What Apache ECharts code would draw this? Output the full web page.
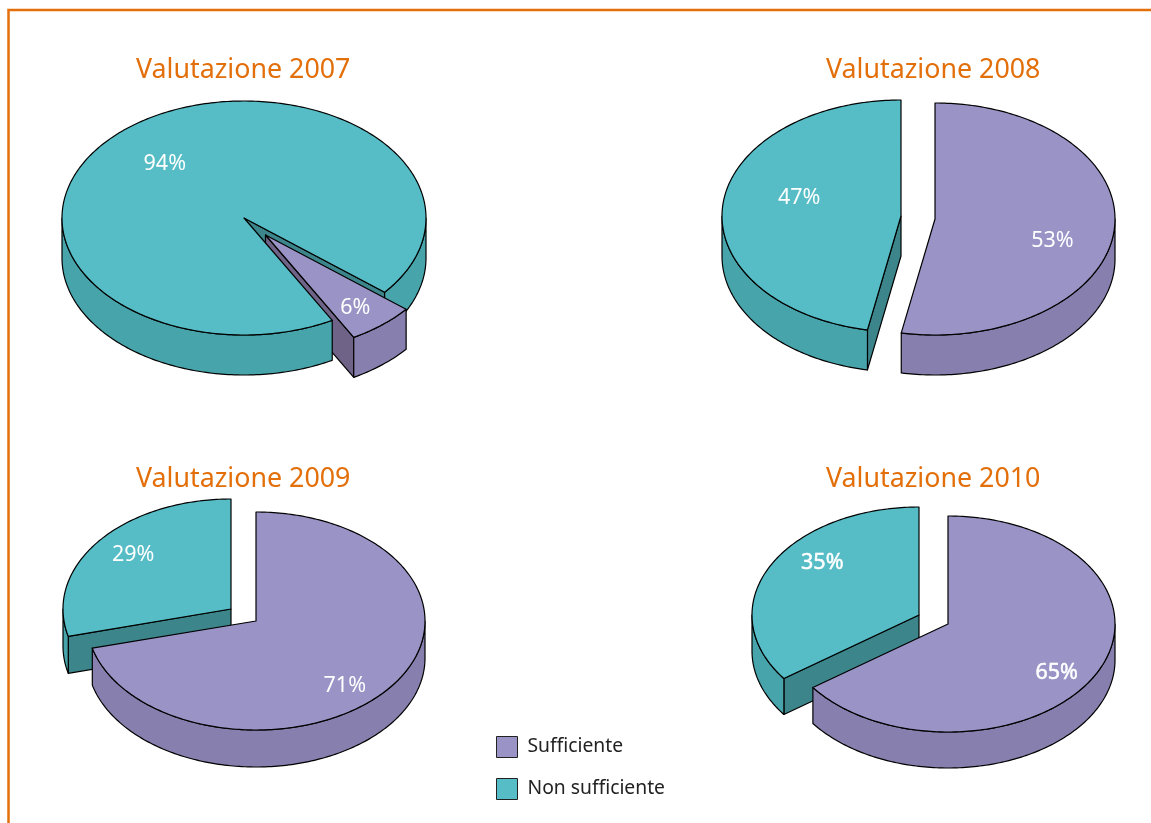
<!DOCTYPE html>
<html>
<head>
<meta charset="utf-8">
<style>html,body{margin:0;padding:0;background:#fff}#c{width:1151px;height:823px}</style>
<script src="https://cdn.jsdelivr.net/npm/echarts@6/dist/echarts.min.js"></script>
</head>
<body>
<div id="c"></div>
<script>
// ---- data ----
var years = ['2007', '2008', '2009', '2010'];
var seriesNames = ['Sufficiente', 'Non sufficiente'];
var sufficiente = [6, 53, 71, 65];
var nonSufficiente = [94, 47, 29, 35];
var titlePrefix = 'Valutazione ';

// ---- layout (per year) ----
var startAngle = [129.4, 0, 0, 0];
var layoutS = [
  {cx: 265.5, cy: 235, rx: 182, ry: 117, d: 40, lab: [14, 14.5]},
  {cx: 935, cy: 219, rx: 180, ry: 116, d: 40, lab: [1, 15]},
  {cx: 256, cy: 621, rx: 169, ry: 109, d: 37, lab: [2, 21]},
  {cx: 948, cy: 624, rx: 167, ry: 108, d: 36, lab: [12, 17]}
];
var layoutN = [
  {cx: 244, cy: 218, rx: 182, ry: 117, d: 40, lab: [-3.5, 4.5]},
  {cx: 901, cy: 216, rx: 179, ry: 116, d: 40, lab: [14, -11]},
  {cx: 231, cy: 609, rx: 168, ry: 110, d: 37, lab: [-11.5, -10]},
  {cx: 919, cy: 615, rx: 167, ry: 108, d: 36, lab: [0, -20]}
];
var titlePos = [[136, 57], [826, 57], [136, 466], [826, 466]];
var heavyLabelYear = 3;

// ---- style ----
var colS = {top: '#9a93c6', wall: '#877fad', cut: '#6f6487'};
var colN = {top: '#56bdc6', wall: '#48a4ab', cut: '#3b858b'};
var ORANGE = '#e36f0a';
var FONT = '"Noto Sans", "Open Sans", sans-serif';

function pt(l, a, dy) {
  var r = a * Math.PI / 180;
  return [l.cx + l.rx * Math.sin(r), l.cy - l.ry * Math.cos(r) + (dy || 0)];
}
function arc(l, a0, a1, dy) {
  var pts = [], n = Math.max(2, Math.ceil(Math.abs(a1 - a0)));
  for (var i = 0; i <= n; i++) pts.push(pt(l, a0 + (a1 - a0) * i / n, dy));
  return pts;
}
function poly(points, fill, z2) {
  return {type: 'polygon', z2: z2, shape: {points: points},
    style: {fill: fill, stroke: '#000', lineWidth: 1.2, lineJoin: 'round'}};
}
function cutWall(l, a, col, z2) {
  var p = pt(l, a);
  return poly([[l.cx, l.cy], p, [p[0], p[1] + l.d], [l.cx, l.cy + l.d]], col, z2);
}
function sliceRenderer(layouts, colors, startOf, zCut, zBody) {
  return function (params, api) {
    var y = api.value(0), value = api.value(1), l = layouts[y];
    var a0 = startOf(y), a1 = a0 + value * 3.6;
    var kids = [];
    // inner cut walls that face the viewer
    if (Math.sin(a0 * Math.PI / 180) < -1e-6) kids.push(cutWall(l, a0, colors.cut, zCut));
    if (Math.sin(a1 * Math.PI / 180) > 1e-6) kids.push(cutWall(l, a1, colors.cut, zCut));
    // outer rim: only the front half of the ellipse
    [[90, 270], [450, 630]].forEach(function (f) {
      var s = Math.max(a0, f[0]), e = Math.min(a1, f[1]);
      if (e > s) {
        var up = arc(l, s, e, 0), down = arc(l, e, s, l.d);
        kids.push(poly(up.concat(down), colors.wall, zBody));
      }
    });
    // top face
    kids.push(poly([[l.cx, l.cy]].concat(arc(l, a0, a1, 0)), colors.top, zBody));
    // label
    var mid = pt({cx: l.cx, cy: l.cy, rx: l.rx * 0.65, ry: l.ry * 0.65}, (a0 + a1) / 2);
    var ts = {
      text: value + '%', x: mid[0] + l.lab[0], y: mid[1] + l.lab[1],
      fill: '#fff', font: '21.5px ' + FONT, align: 'center', verticalAlign: 'middle'};
    if (y === heavyLabelYear) { ts.stroke = '#fff'; ts.lineWidth = 0.5; }
    kids.push({type: 'text', z2: 10, style: ts});
    return {type: 'group', children: kids};
  };
}
function toData(vals) { return vals.map(function (v, i) { return [i, v]; }); }

var chart = echarts.init(document.getElementById('c'), null, {renderer: 'canvas'});
chart.setOption({
  animation: false,
  backgroundColor: '#fff',
  title: years.map(function (y, i) {
    return {text: titlePrefix + y, left: titlePos[i][0], top: titlePos[i][1], padding: 0,
      textStyle: {color: ORANGE, fontFamily: FONT, fontSize: 26.8, fontWeight: 'normal'}};
  }),
  legend: {
    left: 496, top: 736, orient: 'vertical', itemWidth: 21, itemHeight: 21, itemGap: 20,
    padding: 0, icon: 'rect', data: seriesNames, selectedMode: false,
    itemStyle: {borderColor: '#222', borderWidth: 1},
    textStyle: {fontFamily: FONT, fontSize: 19.3, color: '#222', padding: [0, 0, 0, 5]}
  },
  series: [
    {type: 'custom', name: seriesNames[0], coordinateSystem: 'none', silent: true,
      itemStyle: {color: colS.top}, data: toData(sufficiente),
      renderItem: sliceRenderer(layoutS, colS, function (y) { return startAngle[y]; }, 2, 4)},
    {type: 'custom', name: seriesNames[1], coordinateSystem: 'none', silent: true,
      itemStyle: {color: colN.top}, data: toData(nonSufficiente),
      renderItem: sliceRenderer(layoutN, colN, function (y) { return startAngle[y] + sufficiente[y] * 3.6; }, 1, 3)}
  ],
  graphic: [
    {type: 'polyline', z: 100, shape: {points: [[1151, 10], [8.5, 10], [8.5, 823]]},
      style: {fill: null, stroke: ORANGE, lineWidth: 2.5}}
  ]
});
</script>
</body>
</html>
